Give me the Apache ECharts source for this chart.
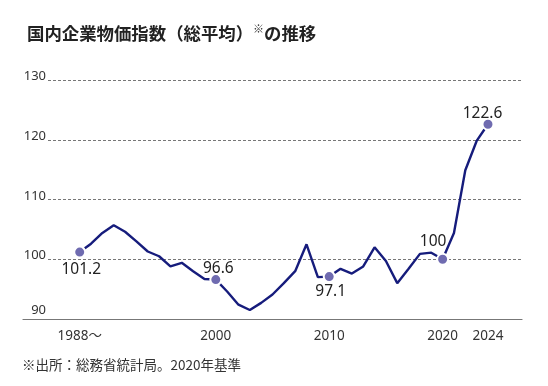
<!DOCTYPE html>
<html>
<head>
<meta charset="utf-8">
<script src="https://cdn.jsdelivr.net/npm/echarts@6/dist/echarts.min.js"></script>
<style>
html,body{margin:0;padding:0;background:#fff;}
#c{width:548px;height:386px;}
</style>
</head>
<body>
<div id="c"></div>
<script>
const years = [1988,1989,1990,1991,1992,1993,1994,1995,1996,1997,1998,1999,2000,2001,2002,2003,2004,2005,2006,2007,2008,2009,2010,2011,2012,2013,2014,2015,2016,2017,2018,2019,2020,2021,2022,2023,2024];
const values = [101.2,102.6,104.4,105.7,104.6,103.0,101.3,100.5,98.8,99.4,98.0,96.7,96.6,94.6,92.4,91.5,92.7,94.1,96.0,98.0,102.5,97.0,97.1,98.4,97.6,98.8,102.0,99.7,96.0,98.4,100.9,101.1,100.0,104.4,114.9,119.8,122.6];
const markedYears = [1988,2000,2010,2020,2024];
const xTickYears = [1988,2000,2010,2020,2024];
const xTickLabels = ['1988〜','2000','2010','2020','2024'];
const yTicks = [90,100,110,120,130];
const titleMain = '国内企業物価指数（総平均）';
const titleMark = '※';
const titleTail = 'の推移';
const footnote = '※出所：総務省統計局。2020年基準';

const labelOffsets = {1988:[1.5,17.5],2000:[2.5,-10.5],2010:[1.5,15.5],2020:[-9.5,-17.5],2024:[-5.5,-11]};

const FONT = '"Noto Sans", "Noto Sans CJK JP", sans-serif';
const CJK = '"Noto Sans CJK JP", sans-serif';

const seriesData = years.map((y,i)=>{
  const item = {value:[y, values[i]]};
  if (markedYears.includes(y)) {
    item.symbol = 'circle';
    item.symbolSize = 11;
    item.itemStyle = {color:'#6f6bb0', borderColor:'#fff', borderWidth:2};
    item.label = {show:true, position:'inside', offset: labelOffsets[y],
      formatter: String(values[i]), color:'#222', fontSize:15.5, fontFamily: FONT};
  } else {
    item.symbol = 'none';
  }
  return item;
});

const chart = echarts.init(document.getElementById('c'), null, {renderer:'canvas'});
chart.setOption({
  animation:false,
  backgroundColor:'#fff',
  title:{
    left:22, top:18,
    text:'{t|'+titleMain+'}{s|'+titleMark+'}{t|'+titleTail+'}',
    textStyle:{
      rich:{
        t:{fontSize:17.4, fontWeight:'bold', fontFamily:CJK, color:'#222', lineHeight:20},
        s:{fontSize:11, fontFamily:CJK, color:'#333', verticalAlign:'top', lineHeight:20, padding:[0,0,8,0]}
      }
    }
  },
  graphic:[{
    type:'text', left:22, top:358,
    style:{text:footnote, fontSize:13.5, fontFamily:CJK, fill:'#333'}
  }],
  grid:[
    {left:23, right:26, top:80, bottom:67},
    {left:48, right:26, top:80, bottom:67}
  ],
  xAxis:[
    {type:'value', gridIndex:0, min:1983, max:2027,
     axisLine:{show:true, lineStyle:{color:'#777', width:1.2}},
     axisTick:{show:false}, splitLine:{show:false},
     axisLabel:{customValues:xTickYears, margin:10, color:'#333', fontSize:13.5, fontFamily:FONT,
       formatter:(v)=>{const k=xTickYears.indexOf(v); return k>=0?xTickLabels[k]:'';}}},
    {type:'value', gridIndex:1, min:1983, max:2027, show:false}
  ],
  yAxis:[
    {type:'value', gridIndex:0, min:90, max:130, interval:10, show:false},
    {type:'value', gridIndex:1, min:90, max:130, interval:10,
     axisLine:{show:false}, axisTick:{show:false},
     splitLine:{show:true, showMinLine:false, lineStyle:{color:'#777', type:[3,2], width:1}},
     axisLabel:{margin:2, color:'#333', fontSize:13, fontFamily:FONT,
       formatter:(v)=> v===90 ? '{b|'+v+'}' : '{a|'+v+'}',
       rich:{a:{fontSize:13, fontFamily:FONT, color:'#333', padding:[0,0,7,0]},
             b:{fontSize:13, fontFamily:FONT, color:'#333', padding:[0,0,18,0]}}}}
  ],
  series:[{
    type:'line', xAxisIndex:0, yAxisIndex:0,
    data:seriesData,
    showSymbol:true,
    lineStyle:{color:'#161c7c', width:2.4},
    itemStyle:{color:'#161c7c'},
    z:3
  }]
});
</script>
</body>
</html>
